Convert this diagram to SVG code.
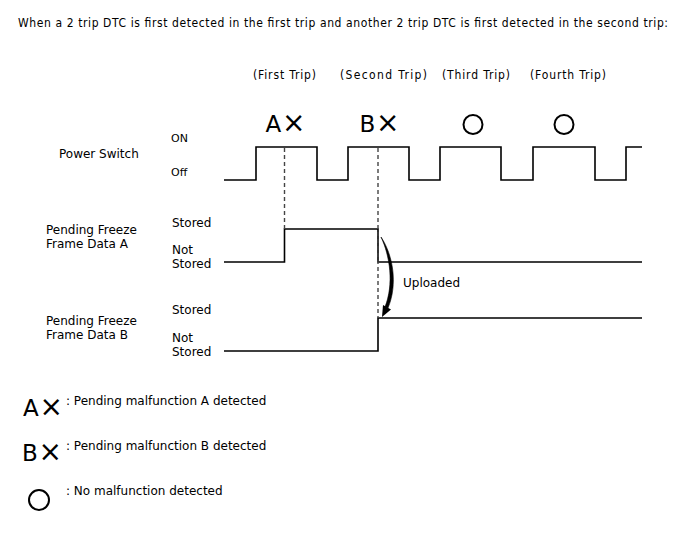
<svg xmlns="http://www.w3.org/2000/svg" width="688" height="560" viewBox="0 0 688 560">
<style>
.t{font-family:"DejaVu Sans","Noto Sans",sans-serif;font-size:12px;fill:#000}
.c{font-family:"DejaVu Sans Condensed","DejaVu Sans",sans-serif;font-stretch:condensed;font-size:12px;fill:#000}
.big{font-family:"DejaVu Sans","Noto Sans",sans-serif;font-size:23px;fill:#000}
.x{font-family:"DejaVu Sans","Noto Sans",sans-serif;font-size:28px;fill:#000}
.sig{fill:none;stroke:#000;stroke-width:1.6}
.dash{fill:none;stroke:#444;stroke-width:1.4;stroke-dasharray:4 3}
.circ{fill:none;stroke:#000;stroke-width:2}
</style>
<rect width="688" height="560" fill="#fff"/>
<g id="title">
<text class="c" x="18" y="27" textLength="650">When a 2 trip DTC is first detected in the first trip and another 2 trip DTC is first detected in the second trip:</text>
</g>
<g id="trip-labels">
<text class="c" x="253" y="79" textLength="63">(First Trip)</text>
<text class="c" x="340" y="79" textLength="87">(Second Trip)</text>
<text class="c" x="442" y="79" textLength="68">(Third Trip)</text>
<text class="c" x="530" y="79" textLength="76">(Fourth Trip)</text>
</g>
<g id="markers">
<text class="big" x="265.5" y="132">A</text><text class="x" x="282" y="132">×</text>
<text class="big" x="359.5" y="132">B</text><text class="x" x="376" y="132">×</text>
<circle class="circ" cx="473" cy="124.5" r="9.5"/>
<circle class="circ" cx="564" cy="124.5" r="9.5"/>
</g>
<g id="power-switch">
<text class="t" x="59" y="158">Power Switch</text>
<text class="t" x="171" y="142" style="font-size:11px">ON</text>
<text class="t" x="171" y="176" style="font-size:11px">Off</text>
</g>
<g id="data-a">
<text class="t" x="46" y="234">Pending Freeze</text>
<text class="t" x="46" y="248">Frame Data A</text>
<text class="t" x="172" y="227">Stored</text>
<text class="t" x="172" y="254">Not</text>
<text class="t" x="172" y="268">Stored</text>
</g>
<g id="data-b">
<text class="t" x="46" y="325">Pending Freeze</text>
<text class="t" x="46" y="339">Frame Data B</text>
<text class="t" x="172" y="314">Stored</text>
<text class="t" x="172" y="342">Not</text>
<text class="t" x="172" y="356">Stored</text>
</g>
<g id="connectors">
<path class="sig" d="M224,180 H256 V147 H317 V180 H348 V147 H409 V180 H440 V147 H501 V180 H533 V147 H595 V180 H626 V147 H642"/>
<path class="sig" d="M224,262 H284.5 V229 H378 V262 H642"/>
<path class="sig" d="M224,351 H378 V318 H642"/>
<path class="dash" d="M284.5,148 V229"/>
<path class="dash" d="M378,148 V318"/>
<path d="M381,237 C393,255 398,284 388,308 L385,307 C394,284 390,256 381,237 Z" fill="#000" stroke="#000" stroke-width="0.6"/>
<polygon points="382,317 383,305 391,309.5" fill="#000"/>
</g>
<g id="uploaded-label">
<text class="t" x="403" y="287">Uploaded</text>
</g>
<g id="legend">
<text class="big" x="23" y="416">A</text><text class="x" x="39.5" y="416">×</text>
<text class="t" x="66" y="405">: Pending malfunction A detected</text>
<text class="big" x="22" y="461">B</text><text class="x" x="38.5" y="461">×</text>
<text class="t" x="66" y="450">: Pending malfunction B detected</text>
<circle class="circ" cx="39" cy="500" r="10"/>
<text class="t" x="66" y="495">: No malfunction detected</text>
</g>
</svg>
